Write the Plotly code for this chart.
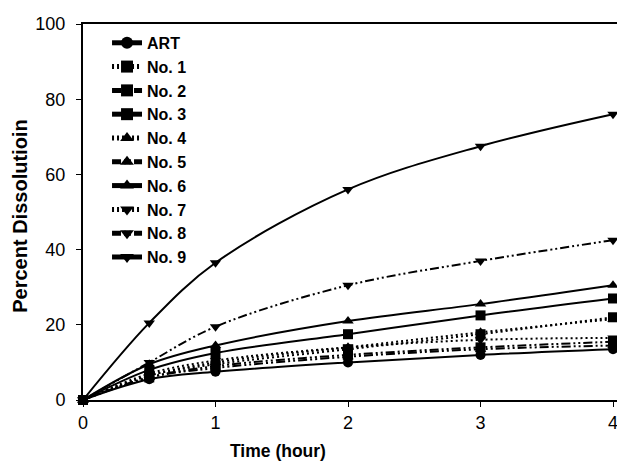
import plotly.graph_objects as go

time_h = [0, 0.5, 1, 2, 3, 4]
series_names = ["ART", "No. 1", "No. 2", "No. 3", "No. 4", "No. 5", "No. 6", "No. 7", "No. 8", "No. 9"]
art = [0, 5.5, 7.5, 10.0, 12.0, 13.5]
no1 = [0, 6.5, 9.5, 13.5, 17.5, 22.0]
no2 = [0, 6.0, 9.0, 12.0, 14.0, 15.5]
no3 = [0, 8.0, 12.5, 17.5, 22.5, 27.0]
no4 = [0, 6.5, 10.0, 14.0, 18.0, 21.5]
no5 = [0, 6.0, 8.5, 11.5, 13.5, 14.5]
no6 = [0, 9.5, 14.5, 21.0, 25.5, 30.5]
no7 = [0, 7.0, 10.5, 14.0, 16.0, 16.5]
no8 = [0, 10.0, 19.5, 30.5, 37.0, 42.5]
no9 = [0, 20.5, 36.5, 56.0, 67.5, 76.0]
values = [art, no1, no2, no3, no4, no5, no6, no7, no8, no9]

x_ticks = [0, 1, 2, 3, 4]
y_ticks = [0, 20, 40, 60, 80, 100]

symbols = ["circle", "square", "square", "square", "triangle-up", "triangle-up",
           "triangle-up", "triangle-down", "triangle-down", "triangle-down"]
DOT = "2px,3px"
DDD = "9px,3px,2px,3px,2px,3px"
dashes = ["solid", DOT, DDD, "solid", DOT, DDD, "solid", DOT, DDD, "solid"]

FONT = "Arial, Liberation Sans, sans-serif"

fig = go.Figure()
for name, ys, sym, dash in zip(series_names, values, symbols, dashes):
    fig.add_trace(go.Scatter(
        x=time_h, y=ys, name=name, mode="lines+markers",
        line=dict(color="black", width=2, dash=dash, shape="spline", smoothing=1.0),
        marker=dict(symbol=sym, size=10, color="black"),
        cliponaxis=False,
    ))

fig.update_layout(
    width=617, height=463,
    margin=dict(l=83, r=0, t=24, b=63),
    plot_bgcolor="white", paper_bgcolor="white",
    font=dict(family=FONT, color="black"),
    showlegend=True,
    legend=dict(
        x=0.045, y=0.995, xanchor="left", yanchor="top",
        bgcolor="rgba(0,0,0,0)", borderwidth=0,
        font=dict(family=FONT, size=16, color="black", weight="bold"),
        tracegroupgap=0, itemsizing="constant",
    ),
    xaxis=dict(
        range=[0, 4.03], tickvals=x_ticks, ticktext=[str(v) for v in x_ticks],
        showgrid=False, zeroline=False, showline=True, linecolor="black", linewidth=2,
        mirror=True, ticks="outside", ticklen=5, tickwidth=1, tickcolor="black",
        tickfont=dict(family=FONT, size=18, color="black"),
        ticklabeloverflow="allow",
    ),
    yaxis=dict(
        range=[0, 100], tickvals=y_ticks, ticktext=[str(v) for v in y_ticks],
        showgrid=False, zeroline=False, showline=True, linecolor="black", linewidth=2,
        mirror=False, ticks="outside", ticklen=5, tickwidth=1, tickcolor="black",
        tickfont=dict(family=FONT, size=18, color="black"),
        ticklabelstandoff=7,
    ),
    annotations=[
        dict(text="Time (hour)", x=0.365, y=-0.135, xref="paper", yref="paper",
             xanchor="center", yanchor="middle", showarrow=False,
             font=dict(family=FONT, size=17.5, color="black", weight="bold")),
        dict(text="Percent Dissolutioin", x=-0.118, y=0.49, xref="paper", yref="paper",
             xanchor="center", yanchor="middle", showarrow=False, textangle=-90,
             font=dict(family=FONT, size=20, color="black", weight="bold")),
    ],
)

fig.write_html("out.html")
